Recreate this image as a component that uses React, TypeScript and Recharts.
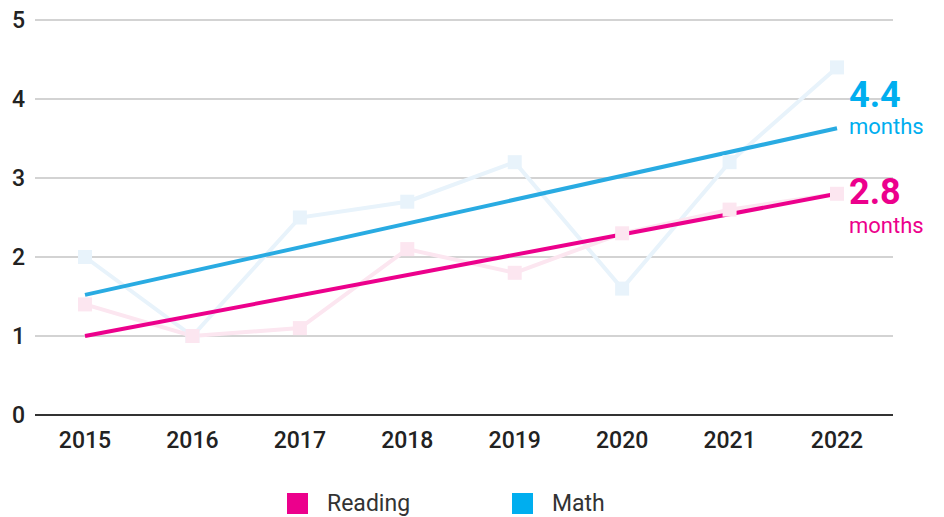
import React from 'react';
import { LineChart, Line, XAxis, YAxis, CartesianGrid, Legend } from 'recharts';

const years = ['2015', '2016', '2017', '2018', '2019', '2020', '2021', '2022'];
const mathScores = [2.0, 1.0, 2.5, 2.7, 3.2, 1.6, 3.2, 4.4];
const readingScores = [1.4, 1.0, 1.1, 2.1, 1.8, 2.3, 2.6, 2.8];
const mathTrend: (number | null)[] = [1.52, null, null, null, null, null, null, 3.63];
const readingTrend: (number | null)[] = [1.0, null, null, null, null, null, null, 2.8];
const yTicks = [0, 1, 2, 3, 4, 5];
const legendItems = [
  { name: 'Reading', color: '#ec008c' },
  { name: 'Math', color: '#00aeef' },
];
const unitLabel = 'months';

const data = years.map((y, i) => ({
  year: y,
  math: mathScores[i],
  reading: readingScores[i],
  mathTrend: mathTrend[i],
  readingTrend: readingTrend[i],
}));

const FONT = 'Roboto, "Noto Sans", sans-serif';

const SquareDot = (color: string) => (props: any) => {
  const { cx, cy, index } = props;
  if (cx == null || cy == null) return <g key={index} />;
  return <rect key={index} x={cx - 7} y={cy - 7} width={14} height={14} fill={color} />;
};

const endLabel = (color: string, text: string, dyBig: number, dySmall: number) => (props: any) => {
  const { x, y, index } = props;
  if (index !== years.length - 1 || x == null || y == null) return <g key={index} />;
  return (
    <g key={index}>
      <text x={x + 12} y={y + dyBig} fill={color} fontSize={36} fontWeight={700} fontFamily={FONT}>
        {text}
      </text>
      <text x={x + 12} y={y + dySmall} fill={color} fontSize={22} fontFamily={FONT}>
        {unitLabel}
      </text>
    </g>
  );
};

const renderLegend = () => (
  <div style={{ paddingTop: 16, paddingLeft: 287, display: 'flex', fontFamily: FONT }}>
    {legendItems.map((it) => (
      <div key={it.name} style={{ display: 'flex', alignItems: 'center', width: 225, height: 21 }}>
        <div style={{ width: 21, height: 21, background: it.color, marginRight: 19 }} />
        <span style={{ fontSize: 23, color: '#333' }}>{it.name}</span>
      </div>
    ))}
  </div>
);

export default function App() {
  return (
    <div style={{ position: 'absolute', left: 0, top: 0, width: 944, height: 517, background: '#fff', fontFamily: FONT }}>
      <LineChart width={944} height={517} data={data} margin={{ top: 20, right: 51, left: 0, bottom: 0 }}>
        <CartesianGrid vertical={false} stroke="#c4c4c4" strokeWidth={1.5} />
        <XAxis
          dataKey="year"
          padding={{ left: 50, right: 56 }}
          height={62}
          tickLine={false}
          tickMargin={11}
          axisLine={{ stroke: '#333', strokeWidth: 2 }}
          tick={{ fill: '#222', fontSize: 23, fontWeight: 500, fontFamily: FONT }}
          interval={0}
        />
        <YAxis
          domain={[0, 5]}
          ticks={yTicks}
          width={35}
          tickLine={false}
          axisLine={false}
          tickMargin={4}
          tick={{ fill: '#222', fontSize: 23, fontWeight: 500, fontFamily: FONT }}
        />
        <Legend verticalAlign="bottom" height={40} content={renderLegend} wrapperStyle={{ left: 0, width: 944 }} />
        <Line
          dataKey="math"
          stroke="#e8f3fb"
          strokeWidth={4}
          dot={SquareDot('#e8f3fb')}
          activeDot={false}
          isAnimationActive={false}
        />
        <Line
          dataKey="reading"
          stroke="#fce6f0"
          strokeWidth={4}
          dot={SquareDot('#fce6f0')}
          activeDot={false}
          isAnimationActive={false}
        />
        <Line
          dataKey="mathTrend"
          stroke="#29abe2"
          strokeWidth={4}
          dot={false}
          activeDot={false}
          connectNulls
          isAnimationActive={false}
          label={endLabel('#00aeef', mathScores[mathScores.length - 1].toFixed(1), -21, 6)}
        />
        <Line
          dataKey="readingTrend"
          stroke="#ec008c"
          strokeWidth={4}
          dot={false}
          activeDot={false}
          connectNulls
          isAnimationActive={false}
          label={endLabel('#ec008c', readingScores[readingScores.length - 1].toFixed(1), 10, 39)}
        />
      </LineChart>
    </div>
  );
}
